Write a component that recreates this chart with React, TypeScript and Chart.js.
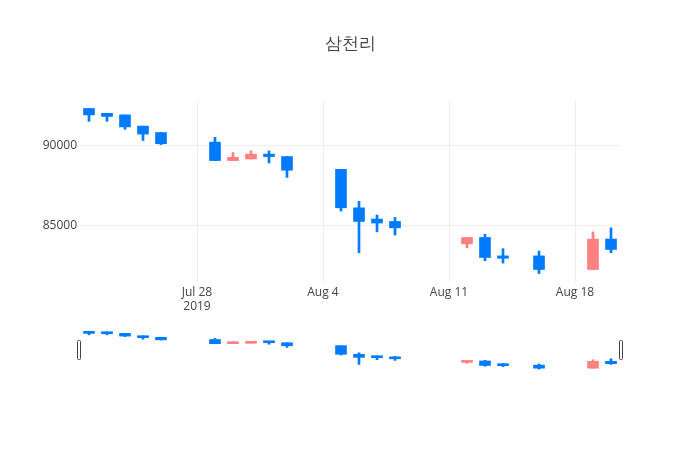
import React, { useEffect, useRef } from 'react';
import Chart from 'chart.js/auto';

// daily OHLC
const dates = [
  '2019-07-22', '2019-07-23', '2019-07-24', '2019-07-25', '2019-07-26',
  '2019-07-29', '2019-07-30', '2019-07-31', '2019-08-01', '2019-08-02',
  '2019-08-05', '2019-08-06', '2019-08-07', '2019-08-08',
  '2019-08-12', '2019-08-13', '2019-08-14', '2019-08-16',
  '2019-08-19', '2019-08-20',
];
const opens = [92300, 92000, 91900, 91200, 90800, 90200, 89050, 89150, 89450, 89300, 88500, 86100, 85400, 85250, 83850, 84250, 83100, 83100, 82250, 84150];
const highs = [92300, 92000, 91900, 91200, 90800, 90500, 89550, 89650, 89650, 89300, 88500, 86500, 85650, 85500, 84250, 84450, 83550, 83400, 84600, 84850];
const lows = [91500, 91500, 91000, 90300, 90050, 89050, 89050, 89150, 88900, 88000, 85900, 83300, 84600, 84400, 83600, 82800, 82650, 82000, 82250, 83300];
const closes = [91900, 91800, 91150, 90700, 90100, 89050, 89250, 89450, 89300, 88450, 86100, 85250, 85150, 84850, 84250, 83000, 82950, 82250, 84150, 83500];

const tickDates = ['2019-07-28', '2019-08-04', '2019-08-11', '2019-08-18'];
const tickLabels = [['Jul 28', '2019'], ['Aug 4'], ['Aug 11'], ['Aug 18']];
const yTicks = [85000, 90000];
const yRange = [81470, 92830];

const TITLE = '삼천리';
const FONT = '"Open Sans", verdana, arial, sans-serif';
const UP = 'rgb(255, 128, 128)';
const DOWN = 'rgb(0, 123, 255)';

const DAY = 86400000;
const base = Date.parse(tickDates[0]);
const toDay = (d: string) => (Date.parse(d) - base) / DAY;
const xMin = toDay(dates[0]) - 0.5;
const xMax = toDay(dates[dates.length - 1]) + 0.5;

function candleDatasets(): any[] {
  const xs = dates.map(toDay);
  const colors = opens.map((o, i) => (closes[i] >= o ? UP : DOWN));
  return [
    {
      label: 'wick',
      data: xs.map((x, i) => ({ x, y: [lows[i], highs[i]] })),
      backgroundColor: colors,
      barThickness: 2,
      grouped: false,
    },
    {
      label: 'body',
      data: xs.map((x, i) => ({ x, y: [opens[i], closes[i]] })),
      backgroundColor: colors,
      barThickness: 11,
      minBarLength: 2,
      grouped: false,
    },
  ];
}

const App: React.FC = () => {
  const mainRef = useRef<HTMLCanvasElement>(null);
  const sliderRef = useRef<HTMLCanvasElement>(null);

  useEffect(() => {
    if (!mainRef.current || !sliderRef.current) return;

    const main = new Chart(mainRef.current, {
      type: 'bar',
      data: { datasets: candleDatasets() },
      options: {
        responsive: false,
        animation: false,
        layout: { padding: { left: 0, right: 80, top: 100, bottom: 0 } },
        plugins: {
          legend: { display: false },
          tooltip: { enabled: false },
        },
        scales: {
          x: {
            type: 'linear',
            min: xMin,
            max: xMax,
            offset: false,
            grid: { color: '#eee', drawTicks: false, offset: false },
            border: { display: false },
            ticks: {
              color: '#444',
              font: { family: FONT, size: 12 },
              padding: 3,
              maxRotation: 0,
              autoSkip: false,
              callback: (_v: any, i: number) => tickLabels[i],
            },
            afterBuildTicks: (s: any) => {
              s.ticks = tickDates.map(d => ({ value: toDay(d) }));
            },
            afterFit: (s: any) => {
              s.height = 168;
            },
          },
          y: {
            min: yRange[0],
            max: yRange[1],
            grid: { color: '#eee', drawTicks: false },
            border: { display: false },
            ticks: {
              color: '#444',
              font: { family: FONT, size: 12 },
              padding: 3,
              callback: (v: any) => String(v),
            },
            afterBuildTicks: (s: any) => {
              s.ticks = yTicks.map(v => ({ value: v }));
            },
            afterFit: (s: any) => {
              s.width = 80;
            },
          },
        },
      },
    });

    // range slider preview below the main plot
    const slider = new Chart(sliderRef.current, {
      type: 'bar',
      data: { datasets: candleDatasets() },
      options: {
        responsive: false,
        animation: false,
        layout: { padding: 0 },
        plugins: { legend: { display: false }, tooltip: { enabled: false } },
        scales: {
          x: { type: 'linear', min: xMin, max: xMax, offset: false, display: false },
          y: { min: yRange[0], max: yRange[1], display: false },
        },
      },
    });

    return () => {
      main.destroy();
      slider.destroy();
    };
  }, []);

  const handle: React.CSSProperties = {
    position: 'absolute',
    top: 340,
    width: 4,
    height: 20,
    boxSizing: 'border-box',
    border: '1px solid #444',
    borderRadius: 1.5,
    background: '#fff',
  };

  return (
    <div style={{ position: 'fixed', left: 0, top: 0, width: 700, height: 450, background: '#fff' }}>
      <canvas ref={mainRef} width={700} height={450} style={{ position: 'absolute', left: 0, top: 0 }} />
      <div
        style={{
          position: 'absolute', left: 0, top: 33, width: 700, lineHeight: '20px',
          textAlign: 'center', fontFamily: FONT, fontSize: 17, color: '#444',
        }}
      >
        {TITLE}
      </div>
      <canvas ref={sliderRef} width={540} height={41} style={{ position: 'absolute', left: 80, top: 330 }} />
      <div style={{ ...handle, left: 77 }} />
      <div style={{ ...handle, left: 619 }} />
    </div>
  );
};

export default App;
